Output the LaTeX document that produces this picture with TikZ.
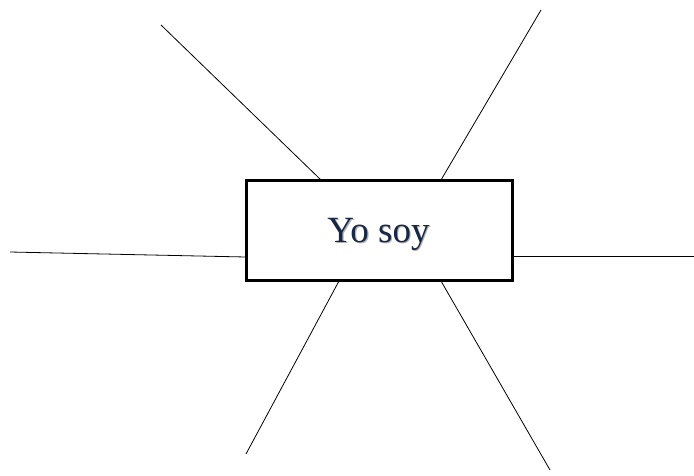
\documentclass[tikz,border=0pt]{standalone}
\usepackage{fontspec}
\setmainfont{Liberation Serif}
\definecolor{navy}{RGB}{24,40,68}
\begin{document}
\begin{tikzpicture}[x=1pt,y=-1pt,
  ray/.style={line width=0.8pt,black},
  centerbox/.style={draw=black,line width=2.6pt,minimum width=266pt,minimum height=100pt,inner sep=0pt,outer sep=0pt,fill=white},
  yofont/.style={font=\fontsize{37}{42}\selectfont,inner sep=0pt,anchor=base}]
\useasboundingbox (0,0) rectangle (694,475);
% rays
\coordinate (ulo) at (161,25);   \coordinate (uli) at (321,180);
\coordinate (uro) at (541,10);   \coordinate (uri) at (441,180);
\coordinate (lo)  at (10,252);   \coordinate (li)  at (246,257);
\coordinate (ro)  at (694,256);  \coordinate (ri)  at (513,256);
\coordinate (llo) at (246,454);  \coordinate (lli) at (339,281);
\coordinate (lro) at (550,470);  \coordinate (lri) at (441,281);
\draw[ray] (ulo) -- (uli);
\draw[ray] (uro) -- (uri);
\draw[ray] (lo) -- (li);
\draw[ray] (ro) -- (ri);
\draw[ray] (llo) -- (lli);
\draw[ray] (lro) -- (lri);
\node[centerbox] (box) at (379.5,230.5) {};
\node[yofont,text=black!30] (shadow) at (379.6,243.6) {Yo soy};
\node[yofont,text=navy] (label) at (378.5,242.5) {Yo soy};
\end{tikzpicture}
\end{document}
